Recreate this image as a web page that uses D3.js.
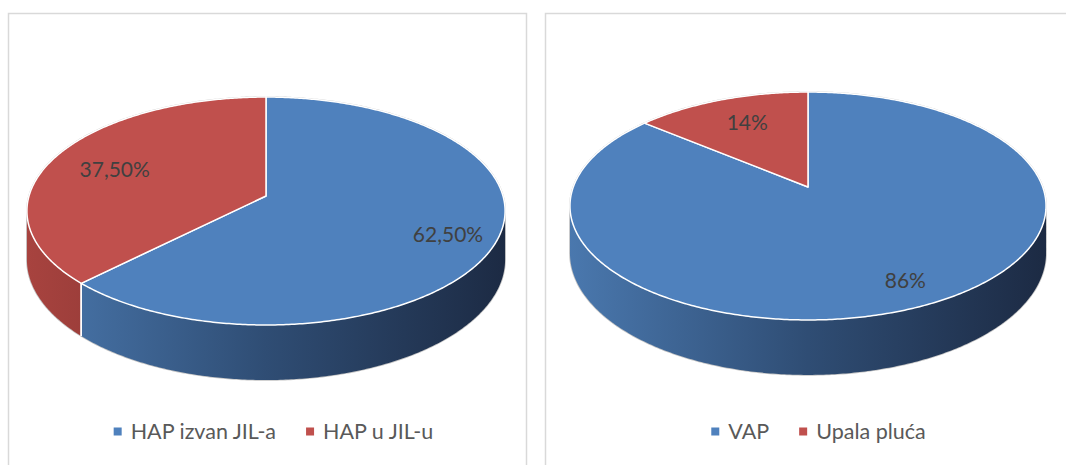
<!DOCTYPE html>
<html>
<head>
<meta charset="utf-8">
<script src="https://cdn.jsdelivr.net/npm/d3@7"></script>
<style>
  html, body { margin: 0; padding: 0; background: #fff; }
  svg { display: block; }
</style>
</head>
<body>
<svg id="chart" width="1066" height="465"></svg>
<script>
// data
var leftCategories = ["HAP izvan JIL-a", "HAP u JIL-u"];
var leftValues = [62.5, 37.5];
var leftLabels = ["62,50%", "37,50%"];

var rightCategories = ["VAP", "Upala pluća"];
var rightValues = [86, 14];
var rightLabels = ["86%", "14%"];

var colors = ["#4f81bd", "#c0504d"];
var wallStops = [
  [{o: 0, c: "#4a78ae"}, {o: 0.5, c: "#2f4d74"}, {o: 1, c: "#1c2a43"}],
  [{o: 0, c: "#a8433f"}, {o: 0.5, c: "#7a2f2d"}, {o: 1, c: "#4a1b1a"}]
];

var svg = d3.select("#chart");
var defs = svg.append("defs");

// panel frames
[[8.5, 13.5, 518], [545.5, 13.5, 600]].forEach(function(p) {
  svg.append("rect")
    .attr("x", p[0]).attr("y", p[1])
    .attr("width", p[2]).attr("height", 500)
    .attr("fill", "#fff")
    .attr("stroke", "#d9d9d9").attr("stroke-width", 1.5);
});

function drawPie(opt) {
  var cx = opt.cx, cy = opt.cy, R = opt.R, S = opt.S, k = opt.k, D = opt.D;
  var g = svg.append("g");

  // perspective projection of a point on the pie's top disc
  function proj(t, r, drop) {
    var u = r * Math.sin(t), v = -r * Math.cos(t), w = 1 - k * v;
    return [cx + R * u / w, cy + S * v / w + (drop ? D / w : 0)];
  }
  function arcPts(a0, a1, r, drop) {
    var n = Math.max(2, Math.ceil(Math.abs(a1 - a0) / 0.01)), pts = [];
    for (var i = 0; i <= n; i++) pts.push(proj(a0 + (a1 - a0) * i / n, r, drop));
    return pts;
  }
  var line = d3.line();

  var pie = d3.pie().sort(null).value(function(d) { return d; });
  var arcs = pie(opt.values);

  var tA = Math.acos(-k), tB = 2 * Math.PI - tA;

  arcs.forEach(function(d, i) {
    var id = opt.id + "-wall-" + i;
    var grad = defs.append("linearGradient").attr("id", id)
      .attr("gradientUnits", "userSpaceOnUse")
      .attr("x1", cx - R * 1.02).attr("x2", cx + R * 1.02)
      .attr("y1", 0).attr("y2", 0);
    wallStops[i].forEach(function(s) {
      grad.append("stop").attr("offset", s.o).attr("stop-color", s.c);
    });
  });

  // outer silhouette (faint grey outline)
  var sil = arcPts(tB, tA + 2 * Math.PI, 1, false)
    .concat(arcPts(tA, tB, 1, true));
  g.append("path").attr("d", line(sil) + "Z")
    .attr("fill", "none").attr("stroke", "#c4c4c4").attr("stroke-width", 1.6);

  // side walls
  arcs.forEach(function(d, i) {
    var lo = Math.max(d.startAngle, tA), hi = Math.min(d.endAngle, tB);
    if (lo >= hi) return;
    var pts = arcPts(lo, hi, 1, false).concat(arcPts(hi, lo, 1, true));
    g.append("path").attr("d", line(pts) + "Z")
      .attr("fill", "url(#" + opt.id + "-wall-" + i + ")");
  });
  // white seams on the wall
  arcs.forEach(function(d) {
    [d.startAngle, d.endAngle].forEach(function(t) {
      if (t > tA && t < tB) {
        g.append("path").attr("d", line([proj(t, 1, false), proj(t, 1, true)]))
          .attr("stroke", "#fff").attr("stroke-width", 1.5);
      }
    });
  });

  // top faces
  arcs.forEach(function(d, i) {
    var pts = [proj(0, 0, false)].concat(arcPts(d.startAngle, d.endAngle, 1, false));
    g.append("path").attr("d", line(pts) + "Z")
      .attr("fill", colors[i])
      .attr("stroke", "#fff").attr("stroke-width", 1.5)
      .attr("stroke-linejoin", "round");
  });

  // data labels
  arcs.forEach(function(d, i) {
    var p = proj((d.startAngle + d.endAngle) / 2, opt.labelR, false);
    g.append("text")
      .attr("x", p[0] + 9).attr("y", p[1] + 5)
      .attr("text-anchor", "middle").attr("dy", "0.36em")
      .attr("font-family", "Lato, 'Open Sans', sans-serif")
      .attr("font-size", 21).attr("fill", "#404040")
      .text(opt.labels[i]);
  });

  // legend
  var lg = svg.append("g");
  var x = 0;
  opt.categories.forEach(function(c, i) {
    var it = lg.append("g");
    it.append("rect").attr("x", 0).attr("y", -11.5)
      .attr("width", 8).attr("height", 8).attr("fill", colors[i]);
    var t = it.append("text").attr("x", 17).attr("y", 0)
      .attr("font-family", "Lato, 'Open Sans', sans-serif")
      .attr("font-size", 21.5).attr("fill", "#595959")
      .text(c);
    var w = 17 + t.node().getComputedTextLength();
    it.attr("transform", "translate(" + x + ",0)");
    x += w + 30;
  });
  var total = x - 30;
  lg.attr("transform", "translate(" + (opt.legendCx - total / 2) + "," + opt.legendY + ")");
}

drawPie({
  id: "left", values: leftValues, labels: leftLabels, categories: leftCategories,
  cx: 266, cy: 196, R: 237, S: 112, k: 0.1316, D: 47.8, labelR: 0.76,
  legendCx: 273.5, legendY: 439
});

drawPie({
  id: "right", values: rightValues, labels: rightLabels, categories: rightCategories,
  cx: 808, cy: 187, R: 234.7, S: 110.8, k: 0.1667, D: 45.8, labelR: 0.78,
  legendCx: 818.5, legendY: 439
});
</script>
</body>
</html>
